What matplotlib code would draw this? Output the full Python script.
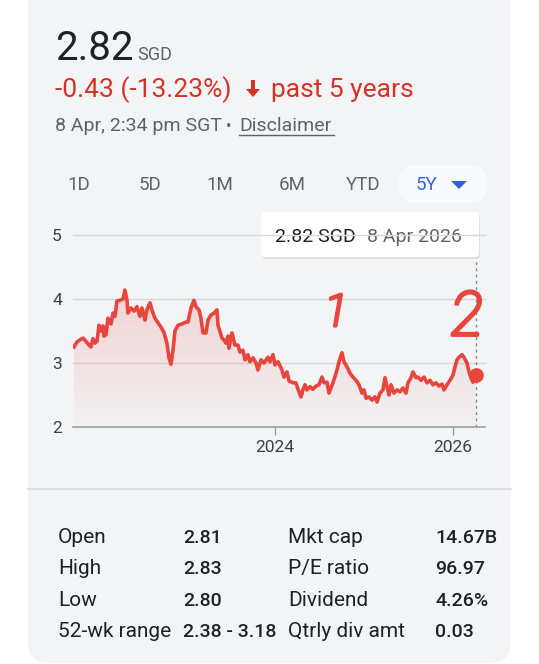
import numpy as np
import matplotlib
matplotlib.use('Agg')
import matplotlib.pyplot as plt
import matplotlib.patheffects as pe
from matplotlib.patches import FancyBboxPatch, Polygon, FancyArrow

plt.rcParams['font.family'] = ['Roboto', 'DejaVu Sans']

# price history, decimal year -> SGD
years = [2021.736, 2021.770, 2021.804, 2021.837, 2021.871, 2021.905, 2021.927, 2021.950, 2021.972, 2021.995,
         2022.018, 2022.040, 2022.063, 2022.074, 2022.096, 2022.119, 2022.153, 2022.175, 2022.198, 2022.220,
         2022.254, 2022.288, 2022.310, 2022.333, 2022.344, 2022.378, 2022.412, 2022.445, 2022.479, 2022.502,
         2022.536, 2022.558, 2022.592, 2022.614, 2022.648, 2022.682, 2022.716, 2022.749, 2022.783, 2022.806,
         2022.828, 2022.851, 2022.873, 2022.907, 2022.952, 2022.997, 2023.020, 2023.054, 2023.087, 2023.110,
         2023.144, 2023.166, 2023.189, 2023.222, 2023.245, 2023.279, 2023.313, 2023.346, 2023.358, 2023.403,
         2023.425, 2023.448, 2023.470, 2023.481, 2023.515, 2023.549, 2023.583, 2023.605, 2023.639, 2023.662,
         2023.695, 2023.718, 2023.752, 2023.786, 2023.808, 2023.842, 2023.876, 2023.921, 2023.943, 2023.977,
         2024.000, 2024.034, 2024.079, 2024.101, 2024.135, 2024.158, 2024.203, 2024.236, 2024.259, 2024.293,
         2024.315, 2024.338, 2024.360, 2024.394, 2024.428, 2024.462, 2024.495, 2024.529, 2024.552, 2024.586,
         2024.608, 2024.653, 2024.698, 2024.721, 2024.754, 2024.777, 2024.811, 2024.845, 2024.878, 2024.912,
         2024.946, 2024.980, 2025.002, 2025.025, 2025.059, 2025.092, 2025.126, 2025.149, 2025.182, 2025.216,
         2025.239, 2025.261, 2025.284, 2025.306, 2025.340, 2025.374, 2025.408, 2025.441, 2025.475, 2025.498,
         2025.531, 2025.554, 2025.588, 2025.610, 2025.644, 2025.678, 2025.712, 2025.745, 2025.779, 2025.813,
         2025.847, 2025.881, 2025.903, 2025.937, 2025.971, 2026.004, 2026.027, 2026.050, 2026.072, 2026.106,
         2026.128, 2026.162, 2026.185, 2026.207, 2026.230, 2026.252, 2026.266]
prices = [3.25, 3.33, 3.36, 3.39, 3.34, 3.28, 3.25, 3.38, 3.31, 3.34,
          3.59, 3.50, 3.58, 3.42, 3.44, 3.70, 3.61, 3.78, 3.73, 3.97,
          3.98, 4.00, 4.14, 3.98, 3.78, 3.86, 3.81, 3.88, 3.73, 3.86,
          3.67, 3.83, 3.94, 3.83, 3.70, 3.63, 3.56, 3.48, 3.31, 3.08,
          2.98, 3.20, 3.50, 3.59, 3.61, 3.64, 3.64, 3.86, 3.98, 3.88,
          3.83, 3.70, 3.47, 3.47, 3.67, 3.75, 3.78, 3.83, 3.59, 3.39,
          3.36, 3.31, 3.42, 3.23, 3.47, 3.28, 3.28, 3.17, 3.20, 3.05,
          3.13, 3.02, 3.08, 3.00, 2.89, 3.05, 3.00, 3.09, 3.02, 3.13,
          2.97, 3.02, 2.89, 2.78, 2.86, 2.72, 2.69, 2.69, 2.59, 2.47,
          2.58, 2.66, 2.58, 2.63, 2.59, 2.64, 2.66, 2.78, 2.69, 2.70,
          2.53, 2.69, 2.89, 3.02, 3.16, 3.02, 2.94, 2.84, 2.78, 2.73,
          2.66, 2.53, 2.58, 2.45, 2.47, 2.42, 2.47, 2.39, 2.53, 2.58,
          2.77, 2.63, 2.50, 2.66, 2.53, 2.58, 2.55, 2.61, 2.53, 2.69,
          2.77, 2.86, 2.77, 2.78, 2.73, 2.78, 2.69, 2.73, 2.66, 2.69,
          2.64, 2.67, 2.58, 2.66, 2.73, 2.81, 2.94, 3.05, 3.09, 3.13,
          3.09, 3.00, 2.86, 2.77, 2.70, 2.77, 2.82]

y_ticks = [2, 3, 4, 5]
x_ticks = [2024, 2026]
x_ticklabels = ['2024', '2026']
periods = ['1D', '5D', '1M', '6M', 'YTD', '5Y']

stat_labels = ['Open', 'High', 'Low', '52-wk range']
stat_values = ['2.81', '2.83', '2.80', '2.38 - 3.18']
stat_labels2 = ['Mkt cap', 'P/E ratio', 'Dividend', 'Qtrly div amt']
stat_values2 = ['14.67B', '96.97', '4.26%', '0.03']

RED = '#e8453c'
TXT = '#202124'
GREY = '#5f6368'
BLUE = '#2a66d3'
CARD = '#f3f4f6'

W, H = 539, 664
fig = plt.figure(figsize=(W / 100, H / 100), dpi=100)
fig.patch.set_facecolor('white')

# background / card in pixel coords
bg = fig.add_axes([0, 0, 1, 1])
bg.set_xlim(0, W)
bg.set_ylim(H, 0)
bg.axis('off')
bg.add_patch(FancyBboxPatch((28, -20), 483, 683, boxstyle='round,pad=0,rounding_size=22',
                            facecolor=CARD, edgecolor='none'))

# header
bg.text(55, 60, '2.82', fontsize=29, color=TXT, va='baseline')
bg.text(137, 60, 'SGD', fontsize=13, color=GREY, va='baseline')
bg.text(55, 97, '-0.43 (-13.23%)', fontsize=19, color='#d93025', va='baseline')
bg.add_patch(FancyArrow(253, 80, 0, 17, width=4, head_width=14, head_length=8,
                        length_includes_head=True, color='#d93025', lw=0))
bg.text(271, 97, 'past 5 years', fontsize=19, color='#d93025', va='baseline')
bg.text(55, 131, '8 Apr, 2:34 pm SGT', fontsize=14, color=GREY, va='baseline')
bg.text(229, 131, '\u2022', fontsize=12, color=GREY, va='baseline', ha='center')
bg.text(239, 131, 'Disclaimer', fontsize=14, color=GREY, va='baseline')
bg.plot([239, 334], [135, 135], color=GREY, lw=1)

# period selector
bg.add_patch(FancyBboxPatch((398, 165), 89, 38, boxstyle='round,pad=0,rounding_size=19',
                            facecolor='#f9fafb', edgecolor='none'))
period_x = [79, 150, 220, 292, 363, 426]
for px, lab in zip(period_x, periods):
    col = BLUE if lab == '5Y' else GREY
    bg.text(px, 190.5, lab, fontsize=13.5, color=col, ha='center', va='baseline')
bg.add_patch(Polygon([(451, 181), (467, 181), (459, 189)], closed=True, color=BLUE, lw=0))

# chart
ax = fig.add_axes([73 / W, (H - 427) / H, (485 - 73) / W, (427 - 235) / H])
ax.set_xlim(2021.725, 2026.365)
ax.set_ylim(2, 5)
ax.patch.set_alpha(0)
for s in ['top', 'right', 'left']:
    ax.spines[s].set_visible(False)
ax.spines['bottom'].set_color('#9aa0a6')
ax.spines['bottom'].set_linewidth(1.2)
for yv in y_ticks[1:]:
    ax.axhline(yv, color='#d5d7db', lw=1, clip_on=False, zorder=0)
ax.set_yticks(y_ticks)
ax.set_yticklabels([str(v) for v in y_ticks])
ax.tick_params(axis='y', length=0, pad=8, labelsize=12.5, labelcolor='#3c4043')
ax.set_xticks(x_ticks)
ax.set_xticklabels(x_ticklabels)
ax.tick_params(axis='x', length=6, width=1, color='#9aa0a6', pad=3, labelsize=12.5,
               labelcolor='#3c4043')

# gradient fill under the line
t = np.array(years)
p = np.array(prices)
verts = np.column_stack([np.r_[t, t[-1], t[0]], np.r_[p, 2, 2]])
poly = Polygon(verts, closed=True, facecolor='none', edgecolor='none')
ax.add_patch(poly)
grad = np.zeros((256, 1, 4))
grad[:, 0, 0] = 0.91
grad[:, 0, 1] = 0.27
grad[:, 0, 2] = 0.24
grad[:, 0, 3] = np.linspace(0.19, 0.02, 256)
im = ax.imshow(grad, extent=[t[0], t[-1], 2, p.max()], aspect='auto', origin='upper', zorder=1)
im.set_clip_path(poly)

ax.plot(t, p, color=RED, lw=2.6, zorder=3, solid_joinstyle='round')
ax.plot(t[-1], p[-1], 'o', ms=9.5, color=RED, zorder=4, clip_on=False)
ax.axvline(t[-1], ymin=0, ymax=(4.64 - 2) / 3, color='#80868b', lw=1, ls=(0, (2, 2.5)), zorder=2)

# handwritten marks
hand = [pe.withStroke(linewidth=2.5, foreground=RED)]
ax.text(2024.687, 3.77, '1', fontsize=32, color=RED, style='italic', fontweight='light',
        ha='center', va='center', path_effects=hand)
ax.text(2026.16, 3.70, '2', fontsize=44, color=RED, style='italic', fontweight='light',
        ha='center', va='center', path_effects=hand)

# tooltip
bg.add_patch(FancyBboxPatch((262, 214), 218, 45, boxstyle='round,pad=0,rounding_size=4',
                            facecolor='#000000', alpha=0.08, edgecolor='none'))
bg.add_patch(FancyBboxPatch((261, 212), 218, 45, boxstyle='round,pad=0,rounding_size=4',
                            facecolor='white', edgecolor='none'))
bg.text(275, 242, '2.82 SGD', fontsize=14, color=TXT, va='baseline')
bg.text(367, 242, '8 Apr 2026', fontsize=14, color=GREY, va='baseline')

# separator + stats
bg.plot([28, 511], [489, 489], color='#dadce0', lw=1.2)
row_y = [543, 574, 606, 637]
for i, ry in enumerate(row_y):
    bg.text(58, ry, stat_labels[i], fontsize=15, color=TXT, va='baseline')
    bg.text(183, ry, stat_values[i], fontsize=14, color=TXT, va='baseline', fontweight='medium')
    bg.text(288, ry, stat_labels2[i], fontsize=15, color=TXT, va='baseline')
    bg.text(435, ry, stat_values2[i], fontsize=14, color=TXT, va='baseline', fontweight='medium')

fig.savefig('out.png', dpi=100)
